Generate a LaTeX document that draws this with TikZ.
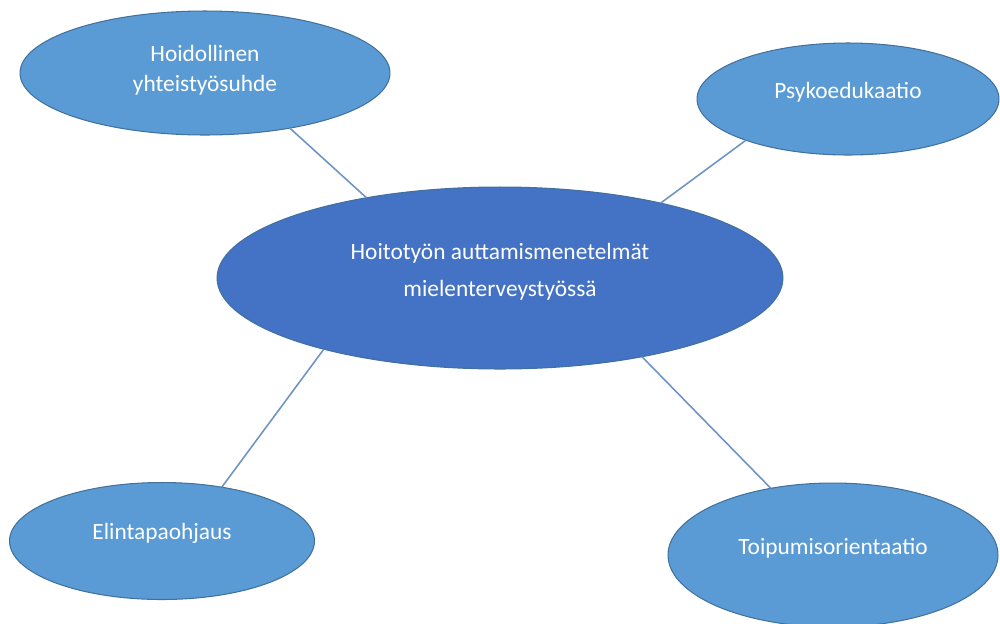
\documentclass[tikz,border=0pt]{standalone}
\usepackage{fontspec}
\setmainfont{Carlito}
\usetikzlibrary{shapes.geometric}
\definecolor{leafblue}{HTML}{5B9BD5}
\definecolor{hubblue}{HTML}{4472C4}
\definecolor{rimblue}{HTML}{41719C}
\definecolor{linkblue}{HTML}{6F93C6}

\begin{document}
\begin{tikzpicture}[x=0.02cm, y=-0.02cm,
        bubble/.style={ellipse, draw=rimblue, line width=0.6pt, inner sep=0pt, outer sep=0pt},
        leaf/.style={bubble, fill=leafblue},
        hub/.style={bubble, fill=hubblue},
        caption/.style={text=white, align=center, font=\fontsize{13.3}{17}\selectfont},
        link/.style={draw=linkblue, line width=0.9pt}
    ]
    \useasboundingbox (0,0) rectangle (1000,623);

    % the shapes
    \node[hub, minimum width=11.32cm, minimum height=3.64cm] (main) at (500,278) {};
    \node[leaf, minimum width=7.4cm, minimum height=2.48cm] (tl) at (205,73) {};
    \node[leaf, minimum width=6.04cm, minimum height=2.24cm] (tr) at (848,99) {};
    \node[leaf, minimum width=6.1cm, minimum height=2.34cm] (bl) at (162,541) {};
    \node[leaf, minimum width=6.6cm, minimum height=2.88cm] (br) at (833,555) {};

    % the texts
    \node[caption, font=\fontsize{13.3}{21}\selectfont] (maintext) at ([yshift=0.13cm]main) {Hoitotyön auttamismenetelmät\\mielenterveystyössä};
    \node[caption] (tltext) at ([yshift=0.06cm]tl) {Hoidollinen\\yhteistyösuhde};
    \node[caption] (trtext) at ([yshift=0.13cm]tr) {Psykoedukaatio};
    \node[caption] (bltext) at ([yshift=0.15cm]bl) {Elintapaohjaus};
    \node[caption] (brtext) at ([yshift=0.13cm]br) {Toipumisorientaatio};

    % the links
    \draw[link] (tl.-33) -- (main.149);
    \draw[link] (tr.-158.7) -- (main.25);
    \draw[link] (main.-158) -- (bl.42);
    \draw[link] (main.-29) -- (br.133);
\end{tikzpicture}
\end{document}
